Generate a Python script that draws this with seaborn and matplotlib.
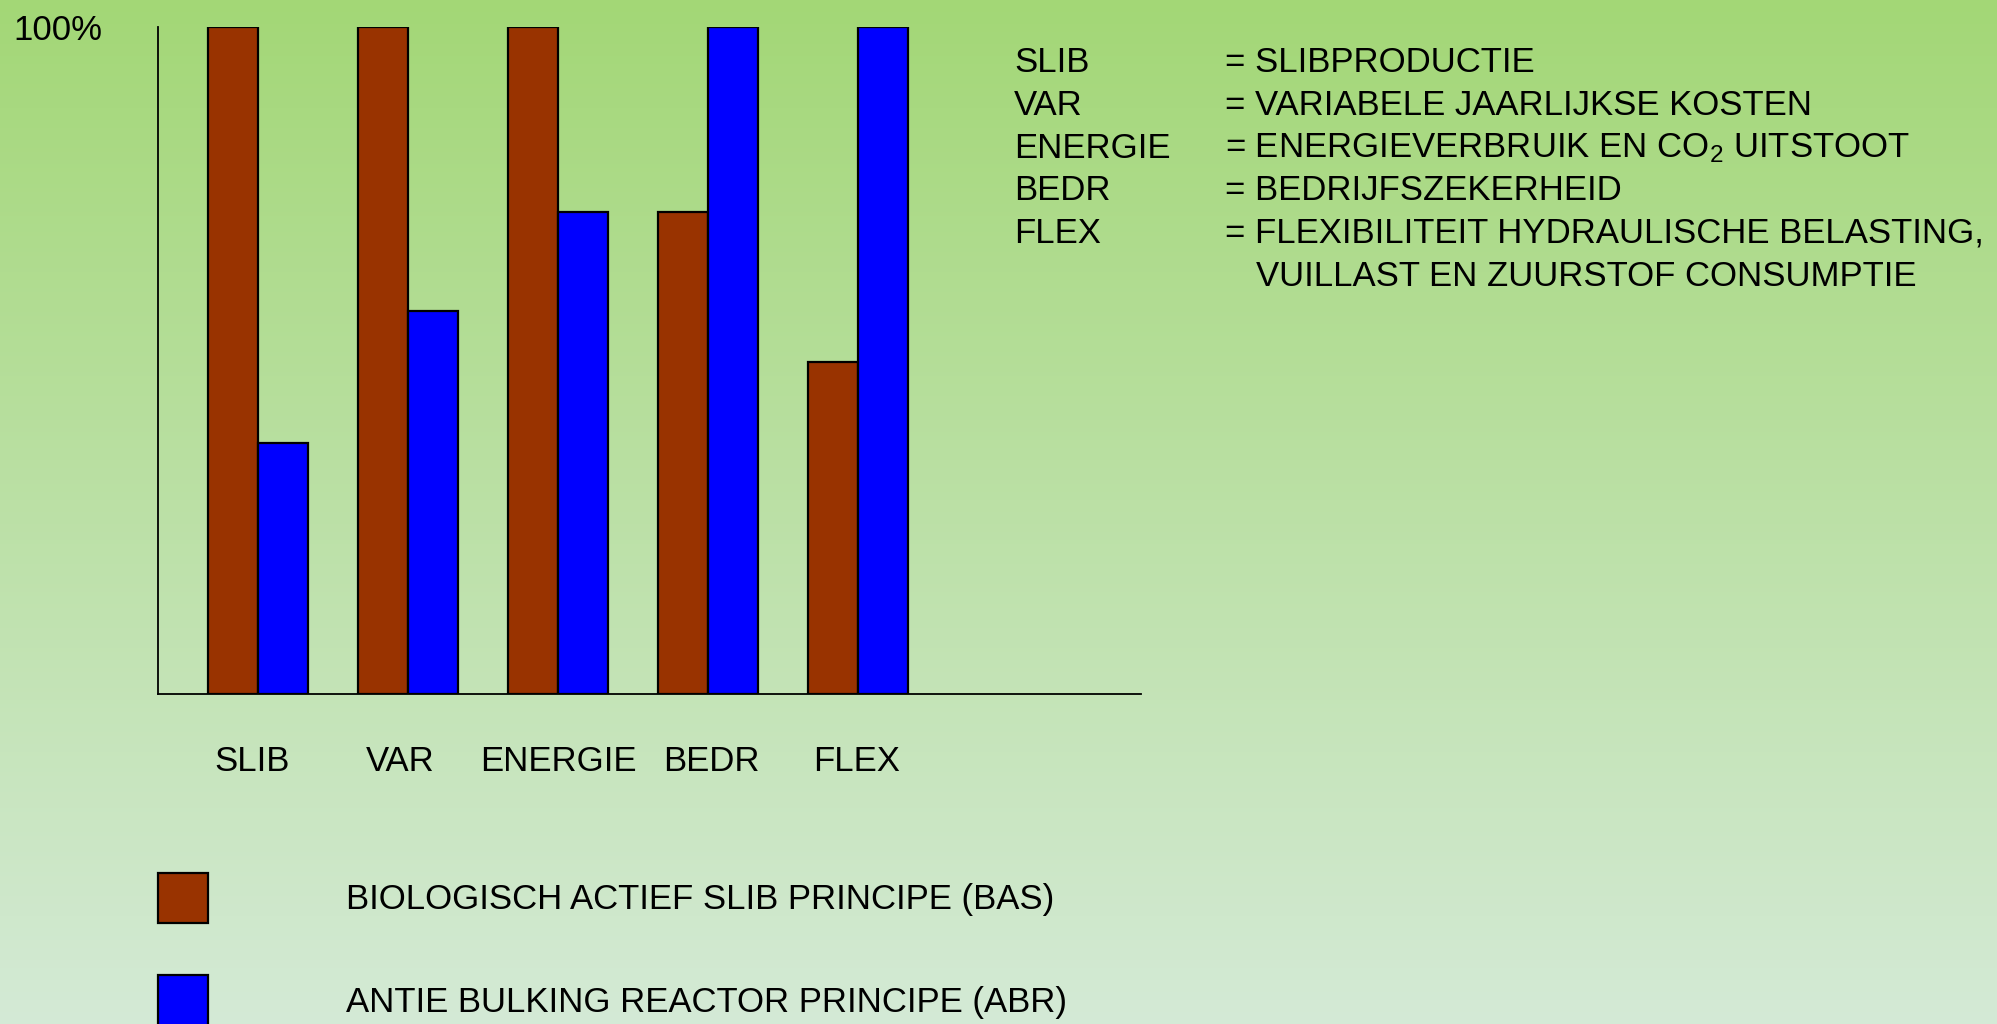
import numpy as np
import pandas as pd
import seaborn as sns
import matplotlib.pyplot as plt
import matplotlib.transforms as mtransforms
from matplotlib.patches import Patch

# chart data (percent of best score)
categories = ["SLIB", "VAR", "ENERGIE", "BEDR", "FLEX"]
bas_values = [100, 100, 100, 72.3, 49.8]
abr_values = [37.6, 57.4, 72.3, 100, 100]
series_names = ["BIOLOGISCH ACTIEF SLIB PRINCIPE (BAS)", "ANTIE BULKING REACTOR PRINCIPE (ABR)"]
series_colors = ["#993300", "#0000ff"]

abbrev = ["SLIB", "VAR", "ENERGIE", "BEDR", "FLEX", ""]
meanings = ["= SLIBPRODUCTIE",
            "= VARIABELE JAARLIJKSE KOSTEN",
            "= ENERGIEVERBRUIK EN CO$_2$ UITSTOOT",
            "= BEDRIJFSZEKERHEID",
            "= FLEXIBILITEIT HYDRAULISCHE BELASTING,",
            "VUILLAST EN ZUURSTOF CONSUMPTIE"]

df = pd.DataFrame({
    "cat": categories * 2,
    "series": [series_names[0]] * 5 + [series_names[1]] * 5,
    "value": bas_values + abr_values,
})

sns.set_theme(style="white")
plt.rcParams["font.family"] = ["Liberation Sans", "DejaVu Sans"]
plt.rcParams["mathtext.default"] = "regular"
plt.rcParams["text.color"] = "black"
plt.rcParams["xtick.color"] = "black"
plt.rcParams["ytick.color"] = "black"
FS = 25

fig = plt.figure(figsize=(19.97, 10.24), dpi=100)

# background gradient
bg = fig.add_axes([0, 0, 1, 1], zorder=-10)
top = np.array([163, 215, 118]) / 255
bot = np.array([212, 234, 214]) / 255
t = np.linspace(0, 1, 256)[:, None]
grad = top[None, :] * (1 - t) + bot[None, :] * t
bg.imshow(grad[:, None, :], aspect="auto", extent=[0, 1, 0, 1])
bg.axis("off")

ax = fig.add_axes([158 / 1997, 1 - 694 / 1024, (1141 - 158) / 1997, (694 - 27) / 1024])
ax.patch.set_alpha(0)
sns.barplot(data=df, x="cat", y="value", hue="series", palette=series_colors,
            width=0.667, edgecolor="black", linewidth=1.6, saturation=1,
            legend=False, ax=ax)
ax.set_xlim(-0.667, 5.887)
ax.set_ylim(0, 100)
ax.set_xlabel("")
ax.set_ylabel("")
ax.set_yticks([100])
ax.set_yticklabels(["100%"])
ax.tick_params(axis="y", length=0, pad=40, labelsize=FS)
ax.tick_params(axis="x", length=0, pad=37, labelsize=FS)
# small horizontal nudges of the category labels
for lab, dx in zip(ax.get_xticklabels(), [-6, -8, 0, 3, -1]):
    lab.set_transform(lab.get_transform() + mtransforms.ScaledTranslation(dx / 100, 0, fig.dpi_scale_trans))
sns.despine(ax=ax)
for side in ["left", "bottom"]:
    ax.spines[side].set_color("black")
    ax.spines[side].set_linewidth(1.3)

# abbreviation key on the right
for i, (a, m) in enumerate(zip(abbrev, meanings)):
    y = 1 - (63 + 42.6 * i) / 1024
    fig.text(1014 / 1997, y, a, fontsize=FS, va="center", ha="left")
    mx = 1225 if m.startswith("=") else 1256
    fig.text(mx / 1997, y, m, fontsize=FS, va="center", ha="left")

# legend at the bottom
handles = [Patch(facecolor=c, edgecolor="black", linewidth=1.6) for c in series_colors]
fig.legend(handles, series_names, loc="upper left",
           bbox_to_anchor=(158 / 1997, 1 - 873 / 1024), frameon=False,
           fontsize=FS, handlelength=1.45, handleheight=1.85, handletextpad=3.95,
           labelspacing=1.5, borderpad=0, borderaxespad=0)

fig.savefig("out.png", dpi=100)
